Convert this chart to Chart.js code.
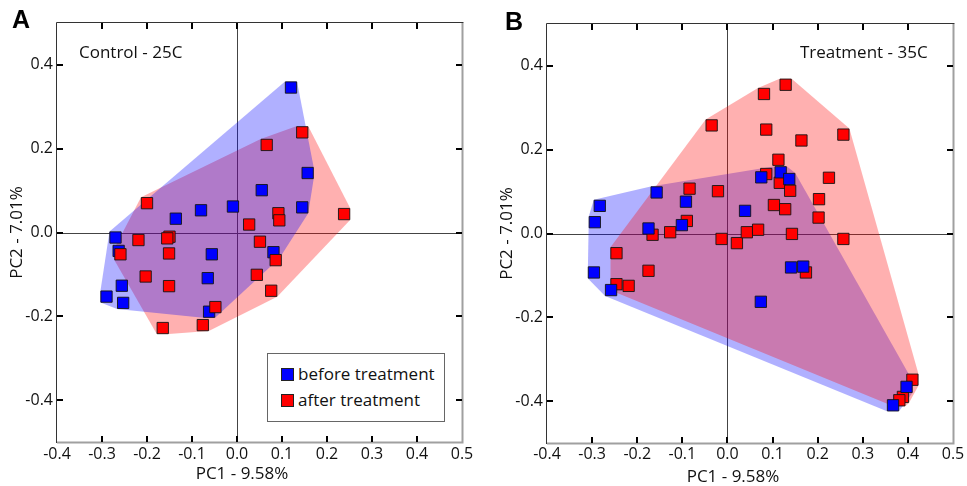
<!DOCTYPE html>
<html>
<head>
<meta charset="utf-8">
<script src="https://cdn.jsdelivr.net/npm/chart.js@4"></script>
<style>
html,body{margin:0;padding:0;background:#fff;width:967px;height:486px;overflow:hidden;}
body{position:relative;font-family:'Open Sans',sans-serif;color:#111;}
.wrap{position:absolute;top:0;width:483px;height:486px;}
#wa{left:0;}
#wb{left:484px;}
.t{position:absolute;white-space:nowrap;line-height:1;}
.panel{font-family:'Liberation Sans',Arial,sans-serif;font-weight:bold;font-size:25px;color:#000;}
.note{font-size:17px;}
.xt{font-size:17px;transform:translateX(-50%);}
#legend{position:absolute;left:267px;top:353px;width:176px;height:67px;border:1px solid #666;background:#fff;}
.sw{position:absolute;width:11px;height:11px;border:1px solid #222;}
</style>
</head>
<body>
<div class="wrap" id="wa"><canvas id="ca" width="483" height="486"></canvas></div>
<div class="wrap" id="wb"><canvas id="cb" width="483" height="486"></canvas></div>

<div class="t panel" style="left:12px;top:7px;">A</div>
<div class="t panel" style="left:505px;top:9px;">B</div>
<div class="t note" style="left:79px;top:43px;">Control - 25C</div>
<div class="t note" style="left:800px;top:43px;">Treatment - 35C</div>
<div class="t xt" id="xta" style="left:242px;top:464px;"></div>
<div class="t xt" id="xtb" style="left:733px;top:467px;"></div>

<div id="legend">
  <div class="sw" style="left:13px;top:14px;background:#0000ff;"></div>
  <div class="t note" id="lg0" style="left:30px;top:11px;"></div>
  <div class="sw" style="left:13px;top:40px;background:#ff0000;"></div>
  <div class="t note" id="lg1" style="left:30px;top:37px;"></div>
</div>

<script>
// ---------------- data ----------------
const xTicks = [-0.4, -0.3, -0.2, -0.1, 0.0, 0.1, 0.2, 0.3, 0.4, 0.5];
const yTicks = [-0.4, -0.2, 0.0, 0.2, 0.4];
const xTitle = 'PC1 - 9.58%';
const yTitle = 'PC2 - 7.01%';
const seriesNames = ['before treatment', 'after treatment'];

// Panel A: Control - 25C
const controlBefore = [
  [0.120,0.346],[0.157,0.142],[0.055,0.101],[0.145,0.060],[-0.009,0.062],[-0.080,0.053],
  [-0.136,0.033],[-0.270,-0.012],[-0.263,-0.044],[-0.056,-0.052],[0.081,-0.047],[-0.065,-0.109],
  [-0.256,-0.127],[-0.290,-0.153],[-0.253,-0.168],[-0.062,-0.189]
];
const controlAfter = [
  [0.145,0.239],[0.066,0.209],[0.238,0.044],[0.092,0.046],[0.094,0.029],[0.027,0.019],
  [-0.200,0.070],[-0.219,-0.018],[-0.150,-0.010],[-0.155,-0.014],[-0.259,-0.052],[-0.151,-0.050],
  [0.051,-0.022],[0.086,-0.066],[-0.203,-0.105],[-0.151,-0.128],[0.044,-0.101],[0.076,-0.139],
  [-0.048,-0.178],[-0.165,-0.228],[-0.076,-0.221]
];

// Panel B: Treatment - 35C
const treatBefore = [
  [-0.283,0.066],[-0.294,0.027],[-0.157,0.098],[-0.092,0.076],[-0.101,0.020],[-0.175,0.012],
  [0.039,0.054],[0.075,0.134],[0.118,0.146],[0.137,0.130],[0.141,-0.081],[0.168,-0.079],
  [0.074,-0.163],[-0.296,-0.093],[-0.258,-0.135],[0.397,-0.366],[0.367,-0.410]
];
const treatAfter = [
  [0.129,0.355],[0.081,0.333],[-0.035,0.258],[0.086,0.248],[0.164,0.222],[0.257,0.236],
  [0.113,0.176],[0.086,0.142],[0.116,0.121],[0.139,0.102],[0.225,0.133],[0.203,0.082],
  [0.202,0.038],[0.103,0.068],[0.128,0.058],[-0.084,0.107],[-0.021,0.101],[-0.090,0.030],
  [-0.166,-0.003],[-0.127,0.003],[-0.013,-0.013],[0.021,-0.023],[0.043,0.003],[0.068,0.009],
  [0.143,-0.001],[0.257,-0.013],[-0.246,-0.047],[-0.175,-0.089],[-0.246,-0.121],[-0.219,-0.125],
  [0.174,-0.093],[0.410,-0.349],[0.389,-0.390],[0.381,-0.398]
];

document.getElementById('xta').textContent = xTitle;
document.getElementById('xtb').textContent = xTitle;
document.getElementById('lg0').textContent = seriesNames[0];
document.getElementById('lg1').textContent = seriesNames[1];

// ---------------- helpers ----------------
function convexHull(points){
  const p = points.slice().sort((a,b)=> a[0]-b[0] || a[1]-b[1]);
  const cross = (o,a,b)=> (a[0]-o[0])*(b[1]-o[1]) - (a[1]-o[1])*(b[0]-o[0]);
  const lower=[], upper=[];
  for(const q of p){ while(lower.length>=2 && cross(lower[lower.length-2],lower[lower.length-1],q)<=0) lower.pop(); lower.push(q); }
  for(let i=p.length-1;i>=0;i--){ const q=p[i]; while(upper.length>=2 && cross(upper[upper.length-2],upper[upper.length-1],q)<=0) upper.pop(); upper.push(q); }
  upper.pop(); lower.pop();
  return lower.concat(upper);
}

const pcaPlugin = {
  id: 'pca',
  beforeDatasetsDraw(chart, args, opts){
    const {ctx, chartArea:a, scales:{x, y}} = chart;
    ctx.save();
    ctx.strokeStyle = '#444';
    ctx.lineWidth = 1;
    const x0 = Math.round(x.getPixelForValue(0)) + 0.5;
    const y0 = Math.round(y.getPixelForValue(0)) + 0.5;
    ctx.beginPath();
    ctx.moveTo(x0, a.top); ctx.lineTo(x0, a.bottom);
    ctx.moveTo(a.left, y0); ctx.lineTo(a.right, y0);
    ctx.stroke();
    opts.hulls.forEach(h => {
      const pts = [];
      const s = opts.pad;
      chart.data.datasets[h.index].data.forEach(p => {
        const px = x.getPixelForValue(p.x), py = y.getPixelForValue(p.y);
        pts.push([px-s,py-s],[px+s,py-s],[px+s,py+s],[px-s,py+s]);
      });
      const hull = convexHull(pts);
      ctx.beginPath();
      hull.forEach((q,i)=> i ? ctx.lineTo(q[0],q[1]) : ctx.moveTo(q[0],q[1]));
      ctx.closePath();
      ctx.fillStyle = h.fill;
      ctx.fill();
    });
    ctx.restore();
  },
  afterDatasetsDraw(chart){
    const {ctx, chartArea:a, scales:{x, y}} = chart;
    ctx.save();
    ctx.strokeStyle = '#a0a0a0';
    ctx.lineWidth = 2;
    ctx.beginPath();
    ctx.moveTo(a.right+0.5, a.top); ctx.lineTo(a.right+0.5, a.bottom+1);
    ctx.moveTo(a.left, a.bottom+0.5); ctx.lineTo(a.right+1.5, a.bottom+0.5);
    ctx.stroke();
    ctx.strokeStyle = '#333';
    ctx.lineWidth = 1;
    ctx.beginPath();
    ctx.moveTo(a.left-0.5, a.top-0.5); ctx.lineTo(a.left-0.5, a.bottom+1);
    ctx.moveTo(a.left-0.5, a.top-0.5); ctx.lineTo(a.right+1.5, a.top-0.5);
    ctx.stroke();
    ctx.strokeStyle = '#000';
    ctx.lineWidth = 2;
    const L = 6;
    ctx.beginPath();
    xTicks.forEach(v => {
      const px = Math.round(x.getPixelForValue(v));
      if (px <= a.left+1 || px >= a.right-1) return;
      ctx.moveTo(px, a.top); ctx.lineTo(px, a.top+L);
      ctx.moveTo(px, a.bottom); ctx.lineTo(px, a.bottom-L);
    });
    yTicks.forEach(v => {
      const py = Math.round(y.getPixelForValue(v));
      ctx.moveTo(a.left, py); ctx.lineTo(a.left+L, py);
      ctx.moveTo(a.right, py); ctx.lineTo(a.right-L, py);
    });
    ctx.stroke();
    ctx.restore();
  }
};

const toXY = arr => arr.map(p => ({x:p[0], y:p[1]}));

function makeChart(id, before, after, cfg){
  const pointDs = (label, data, color, order) => ({
    label, data: toXY(data), order,
    pointStyle: 'rect', pointRadius: 8, pointHoverRadius: 8,
    backgroundColor: color, borderColor: 'rgba(20,20,20,0.9)', borderWidth: 1,
    showLine: false
  });
  return new Chart(document.getElementById(id), {
    type: 'scatter',
    data: {
      datasets: [
        pointDs(seriesNames[0], before, '#0000ff', cfg.blueOrder),
        pointDs(seriesNames[1], after, '#ff0000', cfg.redOrder)
      ]
    },
    options: {
      responsive: false,
      animation: false,
      events: [],
      layout: { padding: cfg.padding },
      plugins: {
        legend: { display: false },
        tooltip: { enabled: false },
        pca: { pad: 6, hulls: cfg.hulls }
      },
      scales: {
        x: {
          type: 'linear', min: -0.4, max: 0.5,
          grid: { display: false, drawTicks: false },
          border: { display: false },
          afterBuildTicks: s => { s.ticks = xTicks.map(v => ({value: v})); },
          afterFit: s => { s.height = cfg.xHeight; },
          ticks: { padding: cfg.xPad, color: '#111', font: {size: 16}, callback: v => Number(v).toFixed(1) },
          title: { display: false }
        },
        y: {
          type: 'linear', min: -0.5, max: 0.5,
          grid: { display: false, drawTicks: false },
          border: { display: false },
          afterBuildTicks: s => { s.ticks = yTicks.map(v => ({value: v})); },
          afterFit: s => { s.width = 57; },
          ticks: { padding: 4, color: '#111', font: {size: 16}, callback: v => Number(v).toFixed(1) },
          title: { display: true, text: yTitle, color: '#111', font: {size: 17, lineHeight: 1}, padding: {top: 8.5, bottom: 0} }
        }
      }
    },
    plugins: [pcaPlugin]
  });
}

Chart.defaults.font.family = "'Open Sans', 'Noto Sans', sans-serif";

makeChart('ca', controlBefore, controlAfter, {
  padding: {top: 23, right: 21, left: 0, bottom: 0},
  xHeight: 44, xPad: 3,
  blueOrder: 1, redOrder: 0,
  hulls: [
    {index: 1, fill: 'rgba(255,0,0,0.31)'},
    {index: 0, fill: 'rgba(0,0,255,0.31)'}
  ]
});
makeChart('cb', treatBefore, treatAfter, {
  padding: {top: 24, right: 14, left: 6, bottom: 0},
  xHeight: 43, xPad: 2,
  blueOrder: 0, redOrder: 1,
  hulls: [
    {index: 0, fill: 'rgba(0,0,255,0.31)'},
    {index: 1, fill: 'rgba(255,0,0,0.31)'}
  ]
});
</script>
</body>
</html>
